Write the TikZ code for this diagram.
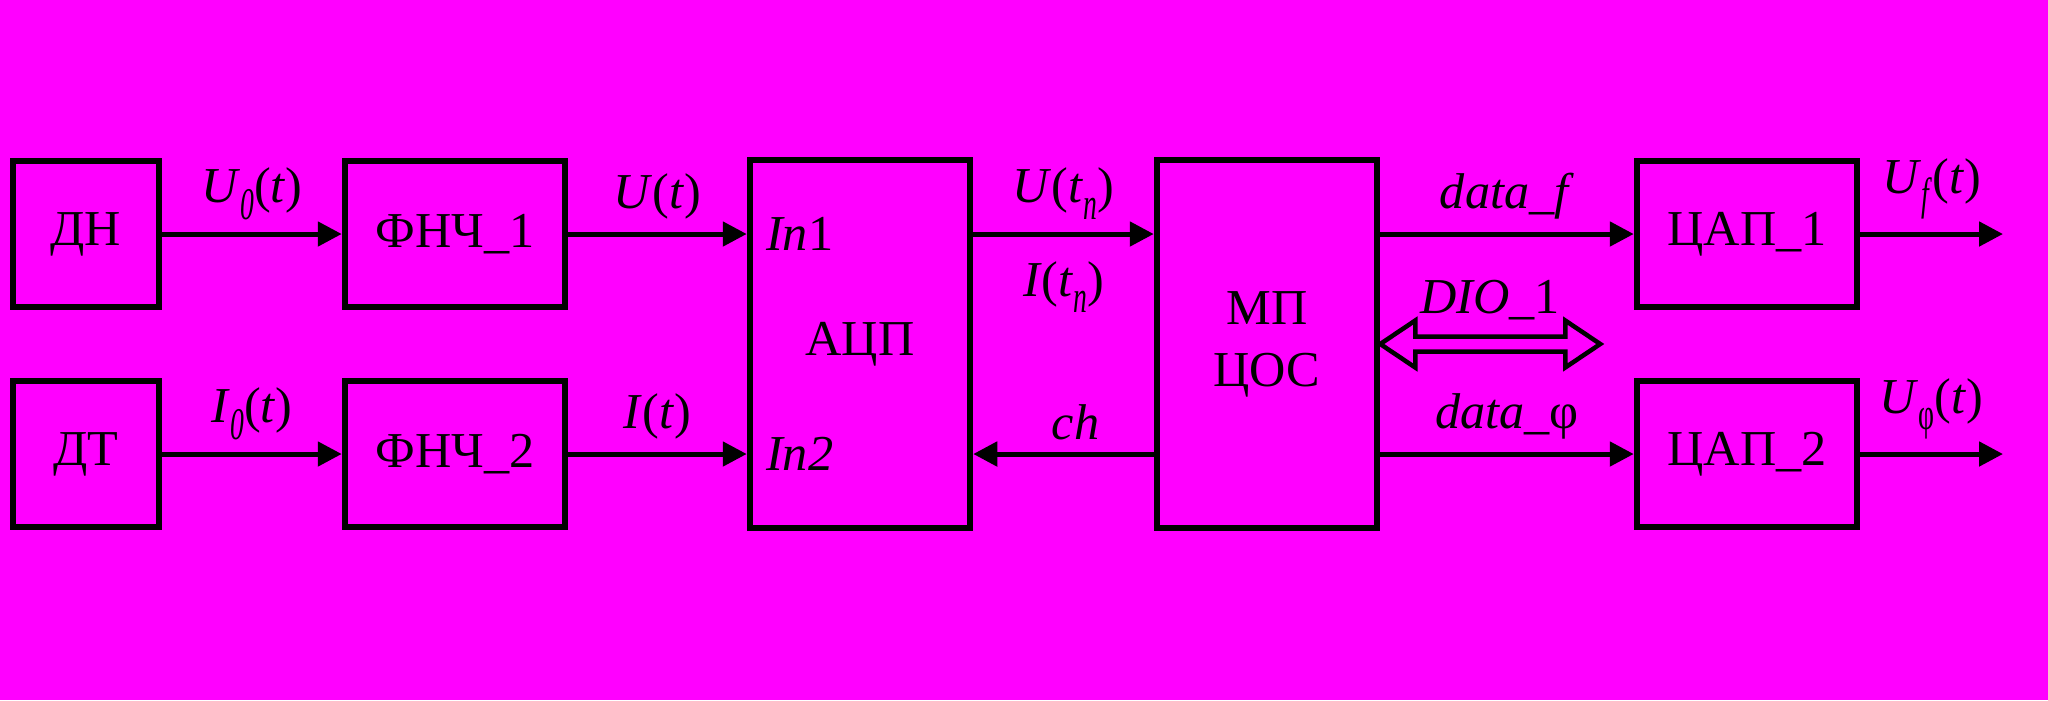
\documentclass[tikz,border=0pt]{standalone}
\usepackage{fontspec}
\usepackage{graphicx}
\setmainfont{Liberation Serif}
\usetikzlibrary{arrows.meta}
\definecolor{fon}{RGB}{255,0,255}
\newcommand{\indeks}[1]{\raisebox{-0.33em}{\scalebox{0.55}[0.9]{#1}}}

\begin{document}
\begin{tikzpicture}[font=\fontsize{14.3}{17.6}\selectfont, line width=0.5mm,
    >={Triangle[length=2.4mm,width=2.4mm]},
    blok/.style={draw, line width=0.65mm, minimum width=22mm, minimum height=14.6mm, inner sep=0pt},
    sig/.style={above, inner sep=1.2mm}]
        \path[use as bounding box, fill=fon] (-8.6mm,-46.6mm) rectangle (196.2mm,23.4mm);

        \node [blok, minimum width=14.6mm] (dn) {ДН};
        \node [blok, right of=dn, xshift=26.9mm] (fnch1) {ФНЧ\_1};
        \node [blok, minimum width=14.6mm, below of=dn, yshift=-12mm] (dt) {ДТ};
        \node [blok, below of=fnch1, yshift=-12mm] (fnch2) {ФНЧ\_2};
        \node [blok, minimum height=36.8mm, right of=fnch1, xshift=30.5mm, yshift=-11mm] (adc) {АЦП};
        \node [blok, minimum height=36.8mm, right of=adc, xshift=30.7mm, align=center] (mp) {МП\\ЦОС};
        \node [blok, right of=mp, xshift=38mm, yshift=11mm] (dac1) {ЦАП\_1};
        \node [blok, below of=dac1, yshift=-12mm] (dac2) {ЦАП\_2};
        \coordinate [right of=dac1, xshift=15.6mm] (out1);
        \coordinate [right of=dac2, xshift=15.6mm] (out2);

        \node [anchor=west, inner sep=0pt, xshift=1.7mm] (in1) at (fnch1 -| adc.west) {\textit{In}1};
        \node [anchor=west, inner sep=0pt, xshift=1.7mm] (in2) at (fnch2 -| adc.west) {\textit{In2}};

        \draw[->] (dn) -- node [sig] {\textit{U}\indeks{\textit{0}}(\textit{t})} (fnch1);
        \draw[->] (dt) -- node [sig] {\textit{I}\indeks{\textit{0}}(\textit{t})} (fnch2);
        \draw[->] (fnch1) -- node [sig] {\textit{U}(\textit{t})} (fnch1 -| adc.west);
        \draw[->] (fnch2) -- node [sig] {\textit{I}(\textit{t})} (fnch2 -| adc.west);
        \draw[->] (adc.east |- fnch1) -- node [sig] {\textit{U}(\textit{t}\indeks{\textit{n}})}
            node [sig, below=1.3mm] {\textit{I}(\textit{t}\indeks{\textit{n}})} (mp.west |- fnch1);
        \draw[->] (mp.west |- fnch2) -- node [sig, xshift=1.2mm] {\textit{ch}} (adc.east |- fnch2);
        \draw[->] (mp.east |- dac1) -- node [sig] {\textit{data\_f}} (dac1);
        \draw[->] (mp.east |- dac2) -- node [sig] {\textit{data}\_φ} (dac2);
        \draw[->] (dac1) -- node [sig] {\textit{U}\indeks{\textit{f}}(\textit{t})} (out1);
        \draw[->] (dac2) -- node [sig] {\textit{U}\indeks{φ}(\textit{t})} (out2);

        % DIO_1
        \draw[line width=0.45mm] (mp.east) -- ++(3.5mm,2.35mm) -- ++(0,-1.6mm)
            -- ++(15mm,0) node [sig, midway, inner sep=1.4mm] {\textit{DIO}\_1}
            -- ++(0,1.6mm) -- ++(3.5mm,-2.35mm) -- ++(-3.5mm,-2.35mm) -- ++(0,1.6mm)
            -- ++(-15mm,0) -- ++(0,-1.6mm) -- cycle;
      \end{tikzpicture}
\end{document}
